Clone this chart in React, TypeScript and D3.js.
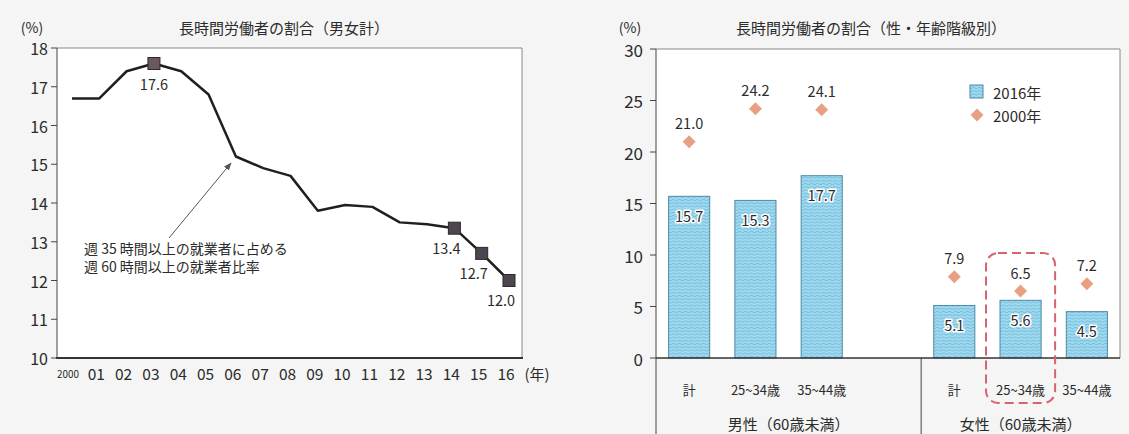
import React from "react";
import * as d3 from "d3";

// ---- Left chart data: 長時間労働者の割合（男女計）
const years = ["2000", "01", "02", "03", "04", "05", "06", "07", "08", "09", "10", "11", "12", "13", "14", "15", "16"];
const shareValues = [16.7, 16.7, 17.4, 17.6, 17.4, 16.8, 15.2, 14.9, 14.7, 13.8, 13.95, 13.9, 13.5, 13.45, 13.35, 12.7, 12.0];
const markedYears = ["03", "14", "15", "16"];
const markedLabels = ["17.6", "13.4", "12.7", "12.0"];
const leftTicks = [10, 11, 12, 13, 14, 15, 16, 17, 18];

// ---- Right chart data: 長時間労働者の割合（性・年齢階級別）
const slotKeys = ["m0", "m1", "m2", "gap", "f0", "f1", "f2"];
const barKeys = ["m0", "m1", "m2", "f0", "f1", "f2"];
const ageLabels = ["計", "25~34歳", "35~44歳", "計", "25~34歳", "35~44歳"];
const groupNames = ["男性（60歳未満）", "女性（60歳未満）"];
const values2016 = [15.7, 15.3, 17.7, 5.1, 5.6, 4.5];
const values2000 = [21.0, 24.2, 24.1, 7.9, 6.5, 7.2];
const rightTicks = [0, 5, 10, 15, 20, 25, 30];

const FONT = "'Noto Sans CJK JP', 'Noto Sans', sans-serif";
const TXT = "#2b2b2b";
const DIAMOND = "#E8A083";

export default function App() {
  // left scales
  const lx = d3.scalePoint<string>().domain(years).range([72, 509]);
  const ly = d3.scaleLinear().domain([10, 18]).range([358, 48]);
  const line = d3
    .line<number>()
    .x((_, i) => lx(years[i]) as number)
    .y((d) => ly(d));

  // right scales
  const rLeft = 656;
  const rRight = 1120;
  const rx = d3.scaleBand<string>().domain(slotKeys).range([rLeft, rRight]).paddingInner(0.38).paddingOuter(0.19);
  const ry = d3.scaleLinear().domain([0, 30]).range([358, 49]);
  const step = (rRight - rLeft) / slotKeys.length;
  const dividerX = rLeft + step * slotKeys.indexOf("f0");
  const groupCenters = [(rLeft + dividerX) / 2, (dividerX + rRight) / 2];

  const diamond = (cx: number, cy: number, r: number) =>
    `M${cx},${cy - r}L${cx + r},${cy}L${cx},${cy + r}L${cx - r},${cy}Z`;

  const hilite = "f1";

  return (
    <svg
      width={1129}
      height={434}
      style={{ position: "fixed", left: 0, top: 0, background: "#f4f5f4" }}
      fontFamily={FONT}
    >
      <defs>
        <pattern id="wave" width={6} height={3.2} patternUnits="userSpaceOnUse">
          <rect width={6} height={3.2} fill="#a2daef" />
          <path d="M0,1.6 Q1.5,0.2 3,1.6 T6,1.6" fill="none" stroke="#58aed1" strokeWidth={0.8} />
        </pattern>
        <marker id="arrow" viewBox="0 0 10 10" refX={9} refY={5} markerWidth={8} markerHeight={8} orient="auto">
          <path d="M0,1L10,5L0,9Z" fill="#555" />
        </marker>
      </defs>

      {/* ================= LEFT CHART ================= */}
      <text x={32} y={27} fontSize={14} fill={TXT} textAnchor="middle" dominantBaseline="central">(%)</text>
      <text x={284} y={27} fontSize={15} fill={TXT} textAnchor="middle" dominantBaseline="central">
        長時間労働者の割合（男女計）
      </text>
      <rect x={57} y={48} width={465} height={310} fill="#fff" stroke="none" />
      <line x1={57} x2={522} y1={48} y2={48} stroke="#888" strokeWidth={1} />
      <line x1={522} x2={522} y1={48} y2={358} stroke="#888" strokeWidth={1} />
      <line x1={57} x2={57} y1={48} y2={358} stroke="#444" strokeWidth={1} />
      <line x1={56} x2={523} y1={358} y2={358} stroke="#333" strokeWidth={2} />
      {leftTicks.map((t) => (
        <g key={t}>
          <line x1={51} x2={57} y1={ly(t)} y2={ly(t)} stroke="#444" />
          <text x={48} y={ly(t)} fontSize={16} fill={TXT} textAnchor="end" dominantBaseline="central">
            {t}
          </text>
        </g>
      ))}
      {years.map((yr) =>
        yr === "2000" ? (
          <text key={yr} x={(lx(yr) as number) - 4} y={373} fontSize={11} fill={TXT} textAnchor="middle"
            dominantBaseline="central" textLength={22} lengthAdjust="spacingAndGlyphs">
            {yr}
          </text>
        ) : (
          <text key={yr} x={(lx(yr) as number) - 3} y={373} fontSize={15.5} fill={TXT} textAnchor="middle" dominantBaseline="central">
            {yr}
          </text>
        )
      )}
      <text x={537} y={373} fontSize={15} fill={TXT} textAnchor="middle" dominantBaseline="central">(年)</text>

      <path d={line(shareValues) || ""} fill="none" stroke="#1f1f1f" strokeWidth={2.5} strokeLinejoin="round" />
      {markedYears.map((yr, i) => {
        const idx = years.indexOf(yr);
        const cx = lx(yr) as number;
        const cy = ly(shareValues[idx]);
        return (
          <rect key={yr} x={cx - 6} y={cy - 6} width={12} height={12} fill={i === 0 ? "#6a5862" : "#4d4550"} stroke="#2a2a2a" strokeWidth={1} />
        );
      })}
      {markedYears.map((yr, i) => {
        const idx = years.indexOf(yr);
        const cx = lx(yr) as number;
        const cy = ly(shareValues[idx]);
        const pos = i === 0 ? { x: cx, y: cy + 20 } : { x: cx - 8, y: cy + 19 };
        return (
          <text key={"l" + yr} x={pos.x} y={pos.y} fontSize={14.5} fill={TXT} textAnchor="middle" dominantBaseline="central">
            {markedLabels[i]}
          </text>
        );
      })}
      <line x1={169} y1={238} x2={231} y2={163} stroke="#555" strokeWidth={1} markerEnd="url(#arrow)" />
      <text x={84} y={248} fontSize={14} fill={TXT} dominantBaseline="central">週 35 時間以上の就業者に占める</text>
      <text x={84} y={266} fontSize={14} fill={TXT} dominantBaseline="central">週 60 時間以上の就業者比率</text>

      {/* ================= RIGHT CHART ================= */}
      <text x={630} y={27} fontSize={14} fill={TXT} textAnchor="middle" dominantBaseline="central">(%)</text>
      <text x={871} y={27} fontSize={15} fill={TXT} textAnchor="middle" dominantBaseline="central">
        長時間労働者の割合（性・年齢階級別）
      </text>
      <rect x={rLeft} y={49} width={rRight - rLeft} height={309} fill="#fff" />
      <line x1={rLeft} x2={rRight} y1={49} y2={49} stroke="#888" />
      <line x1={rRight} x2={rRight} y1={49} y2={358} stroke="#888" />
      <line x1={rLeft} x2={rLeft} y1={49} y2={434} stroke="#444" />
      <line x1={dividerX} x2={dividerX} y1={358} y2={434} stroke="#444" />
      {rightTicks.map((t) => (
        <g key={t}>
          <line x1={650} x2={rLeft} y1={ry(t)} y2={ry(t)} stroke="#444" />
          <text x={643} y={ry(t)} fontSize={17} fill={TXT} textAnchor="end" dominantBaseline="central">
            {t}
          </text>
        </g>
      ))}

      {barKeys.map((k, i) => {
        const x = rx(k) as number;
        const w = rx.bandwidth();
        return (
          <rect key={k} x={x} y={ry(values2016[i])} width={w} height={ry(0) - ry(values2016[i])}
            fill="url(#wave)" stroke="#4c8aa6" strokeWidth={1} />
        );
      })}
      <line x1={rLeft} x2={rRight} y1={358} y2={358} stroke="#333" strokeWidth={1.5} />
      {barKeys.map((k, i) => {
        const cx = (rx(k) as number) + rx.bandwidth() / 2;
        return (
          <text key={"bl" + k} x={cx} y={ry(values2016[i]) + 19} fontSize={14.5} fill={TXT} textAnchor="middle"
            dominantBaseline="central" stroke="#fff" strokeWidth={3} paintOrder="stroke" strokeLinejoin="round">
            {values2016[i].toFixed(1)}
          </text>
        );
      })}
      {barKeys.map((k, i) => {
        const cx = (rx(k) as number) + rx.bandwidth() / 2;
        const cy = ry(values2000[i]);
        return (
          <g key={"d" + k}>
            <path d={diamond(cx, cy, 6.5)} fill={DIAMOND} />
            <text x={cx} y={cy - 19} fontSize={14.5} fill={TXT} textAnchor="middle" dominantBaseline="central">
              {values2000[i].toFixed(1)}
            </text>
          </g>
        );
      })}
      {barKeys.map((k, i) => {
        const cx = (rx(k) as number) + rx.bandwidth() / 2;
        return (
          <text key={"c" + k} x={cx} y={389} fontSize={13} fill={TXT} textAnchor="middle" dominantBaseline="central">
            {ageLabels[i]}
          </text>
        );
      })}
      {groupNames.map((g, i) => (
        <text key={g} x={groupCenters[i]} y={423} fontSize={15} fill={TXT} textAnchor="middle" dominantBaseline="central">
          {g}
        </text>
      ))}

      {/* highlight box */}
      {(() => {
        const x = (rx(hilite) as number) - 14;
        const w = rx.bandwidth() + 28;
        return (
          <rect x={x} y={253} width={w} height={150} rx={12} ry={12} fill="none" stroke="#D8636B"
            strokeWidth={2} strokeDasharray="9,5" />
        );
      })()}

      {/* legend */}
      <rect x={970} y={85} width={13} height={13} fill="url(#wave)" stroke="#4c8aa6" />
      <text x={993} y={92} fontSize={15} fill={TXT} dominantBaseline="central">2016年</text>
      <path d={diamond(977, 115, 6.5)} fill={DIAMOND} />
      <text x={993} y={115} fontSize={15} fill={TXT} dominantBaseline="central">2000年</text>
    </svg>
  );
}
